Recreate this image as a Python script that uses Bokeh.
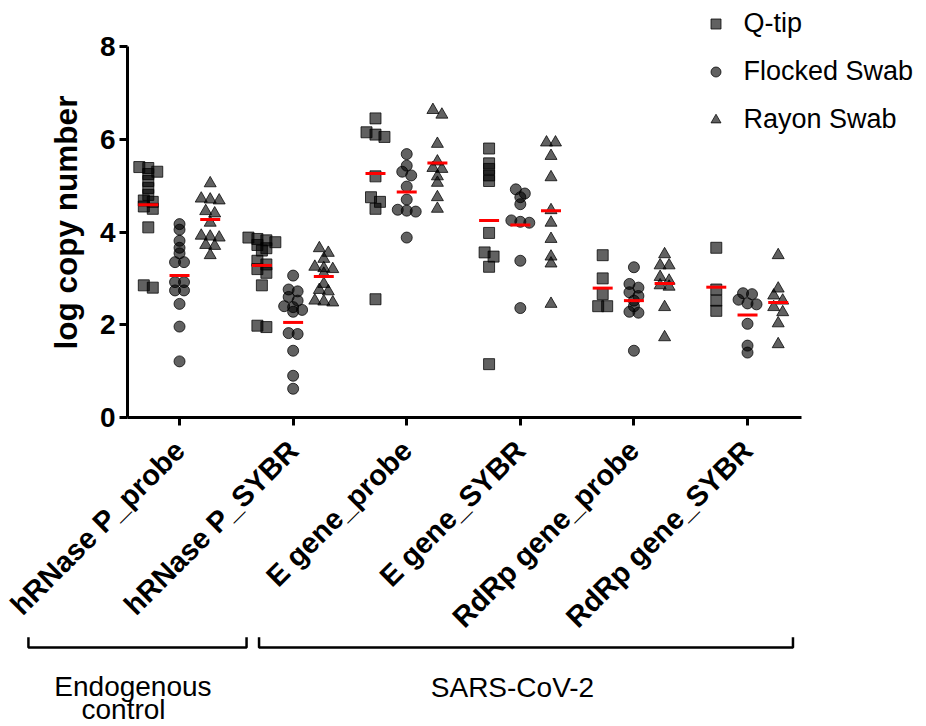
import math
from bokeh.plotting import figure
from bokeh.models import (Range1d, FixedTicker, Legend, LegendItem, ColumnDataSource)
from bokeh.core.properties import value
from bokeh.embed import file_html
from bokeh.resources import INLINE

# ---------------- data ----------------
categories = ["hRNase P_probe", "hRNase P_SYBR", "E gene_probe", "E gene_SYBR",
              "RdRp gene_probe", "RdRp gene_SYBR"]
series = ["Q-tip", "Flocked Swab", "Rayon Swab"]

qtip = [
    [5.40, 5.38, 5.30, 5.25, 5.10, 4.95, 4.80, 4.68, 4.65, 4.55, 4.50, 4.10, 2.85, 2.80],
    [3.88, 3.85, 3.82, 3.78, 3.72, 3.65, 3.60, 3.38, 3.30, 3.20, 3.12, 2.85, 1.98, 1.95],
    [6.45, 6.15, 6.10, 6.05, 5.20, 4.75, 4.65, 4.50, 2.55],
    [5.80, 5.48, 5.36, 5.22, 5.10, 3.98, 3.56, 3.47, 3.25, 1.15],
    [3.50, 3.00, 2.66, 2.40, 2.40],
    [3.66, 2.76, 2.52, 2.30],
]
flocked = [
    [4.17, 4.05, 3.81, 3.66, 3.54, 3.35, 3.35, 2.92, 2.92, 2.74, 2.74, 2.45, 1.96, 1.21],
    [3.06, 2.76, 2.72, 2.60, 2.52, 2.40, 2.38, 2.32, 2.28, 1.82, 1.80, 1.44, 0.90, 0.62],
    [5.68, 5.43, 5.30, 5.22, 4.98, 4.70, 4.48, 4.46, 4.44, 3.88],
    [4.92, 4.83, 4.75, 4.60, 4.25, 4.22, 4.20, 3.38, 2.36],
    [3.24, 2.88, 2.80, 2.70, 2.62, 2.52, 2.40, 2.28, 2.26, 1.44],
    [2.68, 2.66, 2.54, 2.46, 2.44, 2.02, 1.55, 1.40],
]
rayon = [
    [5.05, 4.72, 4.70, 4.68, 4.45, 4.40, 4.20, 3.92, 3.90, 3.88, 3.72, 3.70, 3.50],
    [3.65, 3.55, 3.42, 3.25, 3.22, 3.20, 3.10, 2.88, 2.75, 2.72, 2.52, 2.50, 2.48],
    [6.63, 6.53, 5.90, 5.52, 5.38, 5.36, 5.20, 5.06, 4.75, 4.50],
    [5.93, 5.93, 5.64, 5.18, 4.47, 4.20, 3.85, 3.47, 3.32, 2.45],
    [3.52, 3.28, 3.28, 3.03, 2.95, 2.85, 2.82, 2.38, 1.73],
    [3.50, 2.78, 2.63, 2.52, 2.38, 2.27, 2.03, 1.58],
]
qtip_mean = [4.59, 3.28, 5.26, 4.25, 2.79, 2.81]
flocked_mean = [3.06, 2.05, 4.86, 4.15, 2.52, 2.21]
rayon_mean = [4.27, 3.04, 5.49, 4.46, 2.89, 2.48]

y_ticks = [0, 2, 4, 6, 8]
y_title = "log copy number"
group_names = ["Endogenous", "control", "SARS-CoV-2"]
group_name_x = [0.590, 0.507, 3.931]
group_name_y = [-5.79, -6.29, -5.83]
bracket_x0 = [-0.33, 1.70]
bracket_x1 = [1.59, 6.40]

# ---------------- layout / style ----------------
FONT = "Liberation Sans"
X_LO, X_HI = 0.542, 6.475          # extent of the drawn x axis
PX_X = 113.6                        # pixels per category
PX_Y = 46.375                       # pixels per log unit
AX_X, AX_Y = 127, 417               # pixel position of y axis / x axis
W, H = 926, 725

series_offset = [-0.275, 0.0, 0.27]
markers = ["square", "circle", "triangle"]
marker_sizes = [11, 11, 12]


def swarm_offsets(vals, row_h=0.12, dx=0.079):
    order = sorted(range(len(vals)), key=lambda i: -vals[i])
    offs = [0.0] * len(vals)
    rows, cur = [], []
    for i in order:
        if cur and vals[cur[0]] - vals[i] > row_h:
            rows.append(cur)
            cur = []
        cur.append(i)
    if cur:
        rows.append(cur)
    for r in rows:
        n = len(r)
        for k, i in enumerate(r):
            offs[i] = (k - (n - 1) / 2) * dx
    return offs


x_left = X_LO - AX_X / PX_X
x_right = X_LO + (W - AX_X) / PX_X
y_top = AX_Y / PX_Y
y_bot = -(H - AX_Y) / PX_Y

p = figure(width=W, height=H,
           x_range=Range1d(x_left, x_right), y_range=Range1d(y_bot, y_top),
           output_backend="svg", toolbar_location=None, min_border=0)
p.outline_line_color = None
p.grid.visible = False

renderers = []
for s_idx, data in enumerate([qtip, flocked, rayon]):
    xs, ys = [], []
    for g, vals in enumerate(data):
        offs = swarm_offsets(vals)
        for v, o in zip(vals, offs):
            xs.append(g + 1 + series_offset[s_idx] + o)
            ys.append(v)
    src = ColumnDataSource(dict(x=xs, y=ys))
    r = p.scatter("x", "y", source=src, marker=markers[s_idx], size=marker_sizes[s_idx],
                  fill_color="black", fill_alpha=0.62,
                  line_color="black", line_alpha=0.75, line_width=1)
    renderers.append(r)

for s_idx, means in enumerate([qtip_mean, flocked_mean, rayon_mean]):
    cx = [g + 1 + series_offset[s_idx] for g in range(len(means))]
    p.segment(x0=[c - 0.088 for c in cx], x1=[c + 0.088 for c in cx],
              y0=means, y1=means, line_color="#ff0000", line_width=3)

# axes (fixed inside the canvas so nothing below/left of them is clipped)
yax = p.yaxis[0]
yax.fixed_location = X_LO
yax.ticker = FixedTicker(ticks=y_ticks)
yax.bounds = (0, 8)
yax.minor_tick_line_color = None
yax.axis_line_width = 3
yax.major_tick_line_width = 3
yax.major_tick_out = 8
yax.major_tick_in = 0
yax.major_label_text_font = FONT
yax.major_label_text_font_style = "bold"
yax.major_label_text_font_size = "28px"
yax.major_label_text_color = "black"
yax.major_label_standoff = 4

xax = p.xaxis[0]
xax.fixed_location = 0
xax.ticker = FixedTicker(ticks=list(range(1, len(categories) + 1)))
xax.major_label_overrides = {i + 1: c for i, c in enumerate(categories)}
xax.bounds = (X_LO, X_HI)
xax.minor_tick_line_color = None
xax.axis_line_width = 3
xax.major_tick_line_width = 3
xax.major_tick_out = 8
xax.major_tick_in = 0
xax.major_label_orientation = math.pi / 4
xax.major_label_text_font = FONT
xax.major_label_text_font_style = "bold"
xax.major_label_text_font_size = "29px"
xax.major_label_text_color = "black"
xax.major_label_standoff = 20

# y-axis title
p.text(x=[x_left + 65 / PX_X], y=[(AX_Y - 222) / PX_Y], text=[y_title], angle=math.pi / 2,
       text_font=value(FONT), text_font_style="bold", text_font_size="31.5px",
       text_color="black", text_align="center", text_baseline="middle")

# brackets + group names
yb, yt = -4.96, -4.74
p.multi_line(xs=[[a, a, b, b] for a, b in zip(bracket_x0, bracket_x1)],
             ys=[[yt, yb, yb, yt] for _ in bracket_x0],
             line_color="black", line_width=2.5)
p.text(x=group_name_x, y=group_name_y, text=group_names,
       text_font=value(FONT), text_font_size="28px", text_color="black",
       text_align="center", text_baseline="alphabetic")

legend = Legend(items=[LegendItem(label=s, renderers=[r]) for s, r in zip(series, renderers)],
                location=(702.5, 590), glyph_width=25, glyph_height=25,
                label_text_font=FONT, label_text_font_size="27px", label_text_color="black",
                label_standoff=16, spacing=17, padding=0, margin=0,
                border_line_alpha=0, background_fill_alpha=0)
p.add_layout(legend)

open("out.html", "w").write(file_html(p, INLINE))
